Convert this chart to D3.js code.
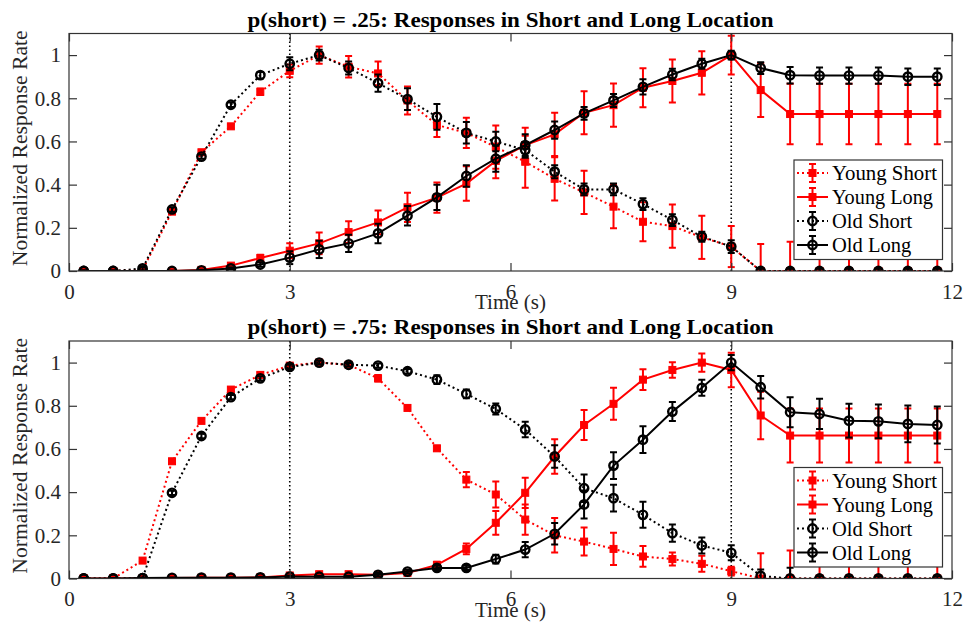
<!DOCTYPE html>
<html>
<head>
<meta charset="utf-8">
<script src="https://cdn.jsdelivr.net/npm/d3@7"></script>
<style>
  body { margin: 0; background: #fff; }
  text { font-family: "Liberation Serif", "Times New Roman", serif; }
</style>
</head>
<body>
<div id="chart"></div>
<script>
// time bins (s)
const times = [0.2, 0.6, 1.0, 1.4, 1.8, 2.2, 2.6, 3.0, 3.4, 3.8, 4.2, 4.6, 5.0, 5.4, 5.8,
               6.2, 6.6, 7.0, 7.4, 7.8, 8.2, 8.6, 9.0, 9.4, 9.8, 10.2, 10.6, 11.0, 11.4, 11.8];
const xTicks = [0, 3, 6, 9, 12];
const yTicks = [0, 0.2, 0.4, 0.6, 0.8, 1];
const guideTimes = [3, 9];
const seriesNames = ["Young Short", "Young Long", "Old Short", "Old Long"];

// p(short) = .25
const youngShort25 = [0, 0, 0.005, 0.275, 0.55, 0.67, 0.83, 0.927, 1.0, 0.946, 0.915, 0.79, 0.676, 0.64, 0.574,
                      0.506, 0.427, 0.364, 0.298, 0.228, 0.208, 0.156, 0.113, 0, 0, 0, 0, 0, 0, 0];
const youngShortErr25 = [0.005, 0.005, 0.01, 0.01, 0.01, 0.01, 0.015, 0.03, 0.04, 0.05, 0.055, 0.065, 0.055, 0.07, 0.1,
                         0.12, 0.1, 0.1, 0.1, 0.09, 0.1, 0.1, 0.095, 0.125, 0.135, 0.13, 0.13, 0.13, 0.13, 0.13];
const youngLong25 = [0, 0, 0, 0, 0.005, 0.025, 0.06, 0.094, 0.128, 0.18, 0.225, 0.295, 0.34, 0.405, 0.51,
                     0.583, 0.633, 0.733, 0.768, 0.849, 0.88, 0.918, 1.0, 0.838, 0.727, 0.727, 0.727, 0.727, 0.727, 0.727];
const youngLongErr25 = [0.002, 0.002, 0.002, 0.003, 0.005, 0.01, 0.015, 0.035, 0.05, 0.05, 0.055, 0.068, 0.07, 0.08, 0.08,
                        0.08, 0.1, 0.1, 0.1, 0.09, 0.1, 0.1, 0.09, 0.125, 0.14, 0.14, 0.14, 0.14, 0.14, 0.14];
const oldShort25 = [0, 0, 0.012, 0.285, 0.53, 0.77, 0.907, 0.96, 1.0, 0.94, 0.87, 0.796, 0.714, 0.64, 0.6,
                    0.56, 0.46, 0.378, 0.378, 0.31, 0.236, 0.159, 0.113, 0, 0, 0, 0, 0, 0, 0];
const oldShortErr25 = [0.003, 0.003, 0.01, 0.01, 0.01, 0.01, 0.015, 0.03, 0.025, 0.03, 0.04, 0.05, 0.06, 0.05, 0.045,
                       0.035, 0.03, 0.027, 0.027, 0.027, 0.027, 0.023, 0.03, 0.01, 0.01, 0.01, 0.01, 0.01, 0.01, 0.01];
const oldLong25 = [0, 0, 0, 0, 0.003, 0.012, 0.03, 0.062, 0.1, 0.128, 0.174, 0.256, 0.341, 0.44, 0.52,
                   0.583, 0.653, 0.73, 0.79, 0.853, 0.91, 0.96, 1.0, 0.94, 0.907, 0.905, 0.905, 0.905, 0.9, 0.9];
const oldLongErr25 = [0.002, 0.002, 0.002, 0.002, 0.003, 0.005, 0.01, 0.03, 0.04, 0.04, 0.045, 0.045, 0.058, 0.05, 0.06,
                      0.05, 0.04, 0.03, 0.03, 0.035, 0.027, 0.023, 0.02, 0.027, 0.038, 0.038, 0.038, 0.038, 0.038, 0.038];

// p(short) = .75
const youngShort75 = [0, 0, 0.083, 0.543, 0.73, 0.875, 0.943, 0.986, 1.0, 0.99, 0.927, 0.79, 0.603, 0.458, 0.389,
                      0.273, 0.2, 0.171, 0.137, 0.102, 0.09, 0.068, 0.034, 0, 0, 0, 0, 0, 0, 0];
const youngShortErr75 = [0.003, 0.003, 0.01, 0.01, 0.01, 0.01, 0.01, 0.01, 0.01, 0.01, 0.015, 0.01, 0.01, 0.035, 0.06,
                         0.07, 0.08, 0.065, 0.075, 0.048, 0.03, 0.037, 0.02, 0.117, 0.13, 0.13, 0.13, 0.13, 0.13, 0.13];
const youngLong75 = [0, 0, 0, 0.002, 0.003, 0.003, 0.005, 0.014, 0.02, 0.02, 0.017, 0.026, 0.063, 0.137, 0.258,
                     0.397, 0.565, 0.711, 0.809, 0.921, 0.966, 1.0, 0.966, 0.755, 0.662, 0.662, 0.662, 0.662, 0.662, 0.662];
const youngLongErr75 = [0.002, 0.002, 0.002, 0.002, 0.002, 0.002, 0.003, 0.005, 0.008, 0.008, 0.008, 0.01, 0.015, 0.025, 0.055,
                        0.07, 0.08, 0.07, 0.074, 0.048, 0.036, 0.042, 0.08, 0.11, 0.125, 0.125, 0.125, 0.125, 0.125, 0.125];
const oldShort75 = [0, 0, 0.002, 0.397, 0.66, 0.84, 0.927, 0.98, 1.0, 0.99, 0.986, 0.96, 0.921, 0.855, 0.785,
                    0.69, 0.565, 0.418, 0.372, 0.295, 0.21, 0.153, 0.119, 0.012, 0, 0, 0, 0, 0, 0];
const oldShortErr75 = [0.002, 0.002, 0.003, 0.01, 0.01, 0.01, 0.01, 0.01, 0.008, 0.008, 0.01, 0.01, 0.02, 0.02, 0.025,
                       0.036, 0.052, 0.064, 0.062, 0.06, 0.04, 0.037, 0.035, 0.03, 0.05, 0.01, 0.01, 0.01, 0.01, 0.01];
const oldLong75 = [0, 0, 0.002, 0.003, 0.004, 0.004, 0.005, 0.009, 0.008, 0.008, 0.017, 0.032, 0.049, 0.049, 0.09,
                   0.134, 0.207, 0.343, 0.523, 0.643, 0.773, 0.883, 1.0, 0.886, 0.77, 0.762, 0.731, 0.728, 0.716, 0.711];
const oldLongErr75 = [0.002, 0.002, 0.002, 0.002, 0.002, 0.002, 0.003, 0.005, 0.005, 0.005, 0.008, 0.008, 0.01, 0.01, 0.02,
                      0.035, 0.05, 0.065, 0.062, 0.062, 0.044, 0.037, 0.035, 0.052, 0.07, 0.07, 0.078, 0.078, 0.085, 0.086];

const styles = [
    { color: "#ff0000", dash: "2,3", marker: "square" },
    { color: "#ff0000", dash: null, marker: "square" },
    { color: "#000000", dash: "2,3", marker: "circle" },
    { color: "#000000", dash: null, marker: "circle" }
];

const W = 966, H = 623;
const svg = d3.select("#chart").append("svg")
    .attr("width", W)
    .attr("height", H);

const left = 69, plotW = 883, plotH = 237.5;
const axisColor = "#333";

function drawMarker(g, type, cx, cy, color) {
    if (type === "square") {
        g.append("rect")
            .attr("x", cx - 3.5).attr("y", cy - 3.5)
            .attr("width", 7).attr("height", 7)
            .attr("fill", color).attr("stroke", color).attr("stroke-width", 1);
    } else {
        g.append("circle")
            .attr("cx", cx).attr("cy", cy).attr("r", 4.2)
            .attr("fill", "none").attr("stroke", color).attr("stroke-width", 2.4);
    }
}

function drawPanel(top, title, values, errors, id) {
    let x = d3.scaleLinear().domain([0, 12]).range([left, left + plotW]);
    let y = d3.scaleLinear().domain([0, 1.1]).range([top + plotH, top]);

    svg.append("clipPath").attr("id", "clip" + id)
        .append("rect")
        .attr("x", left).attr("y", top)
        .attr("width", plotW).attr("height", plotH);

    let plot = svg.append("g").attr("clip-path", "url(#clip" + id + ")");

    // dotted guide lines at 3 s and 9 s
    plot.selectAll(".guide")
        .data(guideTimes)
        .enter().append("line")
        .attr("x1", d => x(d)).attr("x2", d => x(d))
        .attr("y1", y(0)).attr("y2", y(1.1))
        .attr("stroke", "#000")
        .attr("stroke-width", 1.6)
        .attr("stroke-dasharray", "1.6,2.4");

    let line = d3.line()
        .x((d, i) => x(times[i]))
        .y(d => y(d));

    values.forEach((vals, s) => {
        let st = styles[s];
        let g = plot.append("g");

        g.append("path")
            .attr("d", line(vals))
            .attr("fill", "none")
            .attr("stroke", st.color)
            .attr("stroke-width", 2)
            .attr("stroke-dasharray", st.dash);

        // error bars
        vals.forEach((v, i) => {
            let e = errors[s][i];
            let cx = x(times[i]);
            let y1 = y(v - e), y2 = y(v + e);
            g.append("line")
                .attr("x1", cx).attr("x2", cx).attr("y1", y1).attr("y2", y2)
                .attr("stroke", st.color).attr("stroke-width", 2);
            [y1, y2].forEach(cy => {
                g.append("line")
                    .attr("x1", cx - 3.5).attr("x2", cx + 3.5).attr("y1", cy).attr("y2", cy)
                    .attr("stroke", st.color).attr("stroke-width", 2);
            });
        });

        vals.forEach((v, i) => drawMarker(g, st.marker, x(times[i]), y(v), st.color));
    });

    // frame
    svg.append("rect")
        .attr("x", left).attr("y", top)
        .attr("width", plotW).attr("height", plotH)
        .attr("fill", "none")
        .attr("stroke", axisColor)
        .attr("stroke-width", 1.2);

    let xAxis = svg.append("g")
        .attr("transform", "translate(0," + (top + plotH) + ")")
        .call(d3.axisBottom(x).tickValues(xTicks).tickSizeInner(-8).tickSizeOuter(0).tickPadding(13));
    let xTop = svg.append("g")
        .attr("transform", "translate(0," + top + ")")
        .call(d3.axisTop(x).tickValues(xTicks).tickSizeInner(-8).tickSizeOuter(0).tickFormat(""));
    let yAxis = svg.append("g")
        .attr("transform", "translate(" + left + ",0)")
        .call(d3.axisLeft(y).tickValues(yTicks).tickSizeInner(-8).tickSizeOuter(0).tickPadding(8)
            .tickFormat(d => (d === 0 || d === 1) ? String(d) : d3.format(".1f")(d)));
    let yRight = svg.append("g")
        .attr("transform", "translate(" + (left + plotW) + ",0)")
        .call(d3.axisRight(y).tickValues(yTicks).tickSizeInner(-8).tickSizeOuter(0).tickFormat(""));

    [xAxis, xTop, yAxis, yRight].forEach(a => {
        a.select(".domain").remove();
        a.selectAll("line").attr("stroke", axisColor).attr("stroke-width", 1.2);
        a.selectAll("text")
            .attr("fill", "#262626")
            .style("font-size", "21px")
            .style("font-family", "'Liberation Serif', serif");
    });

    // title
    svg.append("text")
        .attr("x", left + plotW / 2)
        .attr("y", top - 7)
        .attr("text-anchor", "middle")
        .attr("textLength", 526)
        .attr("lengthAdjust", "spacingAndGlyphs")
        .style("font-size", "21px")
        .style("font-weight", "bold")
        .text(title);

    // axis labels
    svg.append("text")
        .attr("x", left + plotW / 2)
        .attr("y", top + plotH + 38)
        .attr("text-anchor", "middle")
        .attr("fill", "#262626")
        .style("font-size", "21px")
        .text("Time (s)");

    svg.append("text")
        .attr("transform", "translate(27," + (top + plotH / 2 - 4) + ") rotate(-90)")
        .attr("text-anchor", "middle")
        .attr("textLength", 236)
        .attr("lengthAdjust", "spacingAndGlyphs")
        .attr("fill", "#262626")
        .style("font-size", "21px")
        .text("Normalized Response Rate");

    // legend
    let lx = 794, ly = top + 126.5;
    let legend = svg.append("g");
    legend.append("rect")
        .attr("x", lx).attr("y", ly)
        .attr("width", 148.5).attr("height", 99.5)
        .attr("fill", "#fff")
        .attr("stroke", axisColor)
        .attr("stroke-width", 1.2);

    seriesNames.forEach((name, s) => {
        let st = styles[s];
        let cy = ly + 13 + s * 24;
        let mx = lx + 18.5;
        legend.append("line")
            .attr("x1", lx + 3).attr("x2", lx + 34).attr("y1", cy).attr("y2", cy)
            .attr("stroke", st.color).attr("stroke-width", 2)
            .attr("stroke-dasharray", st.dash);
        legend.append("line")
            .attr("x1", mx).attr("x2", mx).attr("y1", cy - 9).attr("y2", cy + 9)
            .attr("stroke", st.color).attr("stroke-width", 2);
        [cy - 9, cy + 9].forEach(c => {
            legend.append("line")
                .attr("x1", mx - 3.5).attr("x2", mx + 3.5).attr("y1", c).attr("y2", c)
                .attr("stroke", st.color).attr("stroke-width", 2);
        });
        drawMarker(legend, st.marker, mx, cy, st.color);
        legend.append("text")
            .attr("x", lx + 38)
            .attr("y", cy + 7)
            .attr("textLength", 105)
            .attr("lengthAdjust", "spacingAndGlyphs")
            .style("font-size", "20.5px")
            .text(name)
            .attr("textLength", name.length > 9 ? (name === "Young Short" ? 105 : (name === "Young Long" ? 101 : null)) : null);
    });
}

drawPanel(33.5, "p(short) = .25: Responses in Short and Long Location",
    [youngShort25, youngLong25, oldShort25, oldLong25],
    [youngShortErr25, youngLongErr25, oldShortErr25, oldLongErr25], 1);

drawPanel(341, "p(short) = .75: Responses in Short and Long Location",
    [youngShort75, youngLong75, oldShort75, oldLong75],
    [youngShortErr75, youngLongErr75, oldShortErr75, oldLongErr75], 2);
</script>
</body>
</html>
